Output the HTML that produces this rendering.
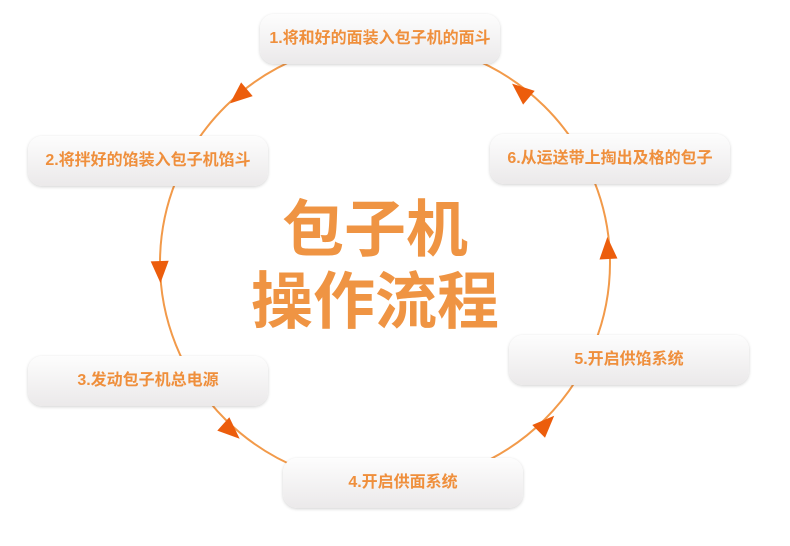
<!DOCTYPE html>
<html><head><meta charset="utf-8"><style>
body{margin:0;width:790px;height:546px;background:#fff;overflow:hidden;position:relative;font-family:"Liberation Sans","Noto Sans CJK SC",sans-serif}
.b{position:absolute;width:240px;height:50px;border-radius:14px;background:linear-gradient(#fdfdfd,#ebe9ea);box-shadow:0 1px 3px rgba(0,0,0,0.18);color:#ef8f3c;font-weight:bold;font-size:16px;line-height:50px;text-align:center;white-space:nowrap}
.t{position:absolute;color:#ef9443;font-weight:bold;font-size:62px;line-height:1;font-family:"Noto Sans CJK SC",sans-serif;white-space:nowrap}
</style></head><body>
<svg width="790" height="546" style="position:absolute;left:0;top:0">
<ellipse cx="385" cy="263" rx="225" ry="222" fill="none" stroke="#f29a4a" stroke-width="2"/>
<g fill="#ec5d0c">
<polygon points="13,0 -9,-9 -9,9" transform="translate(240,95) rotate(140)"/>
<polygon points="13,0 -9,-9 -9,9" transform="translate(160,270) rotate(88)"/>
<polygon points="13,0 -9,-9 -9,9" transform="translate(230,430) rotate(42)"/>
<polygon points="13,0 -9,-9 -9,9" transform="translate(545,425) rotate(-45)"/>
<polygon points="13,0 -9,-9 -9,9" transform="translate(608,250) rotate(-93)"/>
<polygon points="13,0 -9,-9 -9,9" transform="translate(522,92) rotate(-140)"/>
</g>
</svg>
<div class="b" style="left:260px;top:14px">1.将和好的面装入包子机的面斗</div>
<div class="b" style="left:28px;top:136px">2.将拌好的馅装入包子机馅斗</div>
<div class="b" style="left:28px;top:356px">3.发动包子机总电源</div>
<div class="b" style="left:283px;top:458px">4.开启供面系统</div>
<div class="b" style="left:509px;top:335px">5.开启供馅系统</div>
<div class="b" style="left:490px;top:134px">6.从运送带上掏出及格的包子</div>
<div class="t" style="left:282px;top:193px">包子机</div>
<div class="t" style="left:251px;top:265px">操作流程</div>
</body></html>
